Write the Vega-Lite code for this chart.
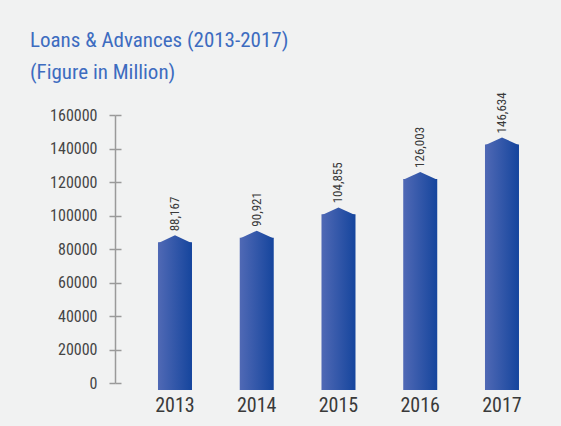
{
  "$schema": "https://vega.github.io/schema/vega-lite/v6.json",
  "width": 430,
  "height": 268,
  "autosize": {"type": "none"},
  "padding": {"left": 115, "top": 115, "right": 16, "bottom": 43},
  "background": "#f1f2f2",
  "title": {
    "text": ["Loans & Advances (2013-2017)", "(Figure in Million)"],
    "anchor": "start",
    "frame": "group",
    "dx": -85,
    "dy": -5,
    "fontSize": 21,
    "font": "'Roboto Condensed', 'DejaVu Sans Condensed', 'Liberation Sans Narrow', 'Liberation Sans', sans-serif",
    "fontWeight": "normal",
    "color": "#3d6cc0",
    "lineHeight": 32
  },
  "data": {
    "values": [
      {"year": "2013", "value": 88167},
      {"year": "2014", "value": 90921},
      {"year": "2015", "value": 104855},
      {"year": "2016", "value": 126003},
      {"year": "2017", "value": 146634}
    ]
  },
  "encoding": {
    "x": {
      "field": "year",
      "type": "ordinal",
      "scale": {"type": "band", "paddingInner": 0.584, "paddingOuter": 0.422, "align": 0.623},
      "axis": {
        "title": null,
        "domain": false,
        "ticks": false,
        "labelAngle": 0,
        "labelFont": "'Roboto Condensed', 'DejaVu Sans Condensed', 'Liberation Sans Narrow', 'Liberation Sans', sans-serif",
        "labelFontSize": 20,
        "labelColor": "#3a3a3a",
        "labelPadding": 12
      }
    },
    "y": {
      "field": "value",
      "type": "quantitative",
      "scale": {"domain": [0, 160000], "nice": false},
      "axis": null
    }
  },
  "layer": [
    {
      "mark": {
        "type": "bar",
        "yOffset": 7,
        "color": {"gradient": "linear", "x1": 0, "y1": 0, "x2": 1, "y2": 0,
          "stops": [{"offset": 0, "color": "#5069b5"}, {"offset": 1, "color": "#15459d"}]}
      },
      "encoding": {
        "y": {
          "field": "value",
          "type": "quantitative",
          "axis": {
            "orient": "left",
            "title": null,
            "grid": false,
            "values": [0, 20000, 40000, 60000, 80000, 100000, 120000, 140000, 160000],
            "format": "d",
            "domainColor": "#9a9a9a",
            "domainWidth": 1.5,
            "tickColor": "#9a9a9a",
            "tickWidth": 1.5,
            "tickSize": 6,
            "labelPadding": 12,
            "labelFont": "'Roboto Condensed', 'DejaVu Sans Condensed', 'Liberation Sans Narrow', 'Liberation Sans', sans-serif",
            "labelFontSize": 16,
            "labelColor": "#454545"
          }
        }
      }
    },
    {
      "mark": {
        "type": "point",
        "shape": "M-1,0.05L0,-0.41L1,0.05Z",
        "size": 1156,
        "filled": true,
        "opacity": 1,
        "strokeWidth": 0,
        "yOffset": 7,
        "color": {"gradient": "linear", "x1": 0, "y1": 0, "x2": 1, "y2": 0,
          "stops": [{"offset": 0, "color": "#5069b5"}, {"offset": 1, "color": "#15459d"}]}
      },
      "encoding": {
        "y": {
          "field": "value",
          "type": "quantitative",
          "axis": {
            "orient": "left",
            "title": null,
            "grid": false,
            "domain": false,
            "labels": false,
            "values": [0, 20000, 40000, 60000, 80000, 100000, 120000, 140000, 160000],
            "tickColor": "#9a9a9a",
            "tickWidth": 1.5,
            "tickSize": -6
          }
        }
      }
    },
    {
      "mark": {
        "type": "text",
        "angle": 270,
        "align": "left",
        "baseline": "middle",
        "dx": 4,
        "font": "'Roboto Condensed', 'DejaVu Sans Condensed', 'Liberation Sans Narrow', 'Liberation Sans', sans-serif",
        "fontSize": 13,
        "color": "#3a3a3a"
      },
      "encoding": {
        "text": {"field": "value", "type": "quantitative", "format": ",d"}
      }
    }
  ],
  "resolve": {"axis": {"y": "independent"}},
  "config": {"view": {"stroke": null}}
}
